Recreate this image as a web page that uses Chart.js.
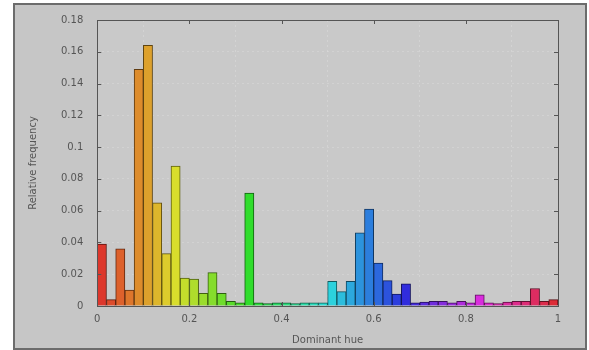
<!DOCTYPE html>
<html>
<head>
<meta charset="utf-8">
<script src="https://cdn.jsdelivr.net/npm/chart.js@4"></script>
<style>
  body { margin: 0; background: #fff; }
  #frame { position: absolute; left: 13px; top: 3px; width: 570px; height: 343px;
           background: #c6c6c6; border: 2px solid #6c6c6c; }
  #wrap { position: absolute; left: 0; top: 0; width: 589px; height: 350px; }
</style>
</head>
<body>
<div id="frame"></div>
<div id="wrap"><canvas id="hueChart" width="589" height="350"></canvas></div>
<script>
// bin centres of the dominant hue histogram (50 bins of 0.02)
var hueBins = [0.01, 0.03, 0.05, 0.07, 0.09, 0.11, 0.13, 0.15, 0.17, 0.19,
               0.21, 0.23, 0.25, 0.27, 0.29, 0.31, 0.33, 0.35, 0.37, 0.39,
               0.41, 0.43, 0.45, 0.47, 0.49, 0.51, 0.53, 0.55, 0.57, 0.59,
               0.61, 0.63, 0.65, 0.67, 0.69, 0.71, 0.73, 0.75, 0.77, 0.79,
               0.81, 0.83, 0.85, 0.87, 0.89, 0.91, 0.93, 0.95, 0.97, 0.99];
var frequency = [0.039, 0.004, 0.036, 0.010, 0.149, 0.164, 0.065, 0.033, 0.088, 0.0175,
                 0.017, 0.008, 0.021, 0.008, 0.003, 0.002, 0.071, 0.002, 0.0015, 0.002,
                 0.002, 0.0015, 0.002, 0.002, 0.002, 0.0155, 0.009, 0.0155, 0.046, 0.061,
                 0.027, 0.016, 0.0075, 0.014, 0.002, 0.0025, 0.003, 0.003, 0.002, 0.003,
                 0.002, 0.007, 0.002, 0.0015, 0.0025, 0.003, 0.003, 0.011, 0.003, 0.004];
var xTicks = [0, 0.2, 0.4, 0.6, 0.8, 1];
var yTicks = [0, 0.02, 0.04, 0.06, 0.08, 0.1, 0.12, 0.14, 0.16, 0.18];

var fills = hueBins.map(function (h) { return 'hsl(' + (h * 360) + ', 72%, 52%)'; });
var edges = hueBins.map(function (h) { return 'hsl(' + (h * 360) + ', 70%, 22%)'; });

// plot box, its background and the inward tick marks
var frameBox = {
    id: 'frameBox',
    beforeDraw: function (chart) {
        var a = chart.chartArea, c = chart.ctx;
        c.save();
        c.fillStyle = '#c9c9c9';
        c.fillRect(a.left, a.top, a.right - a.left, a.bottom - a.top);
        c.restore();
    },
    afterDraw: function (chart) {
        var a = chart.chartArea, c = chart.ctx;
        var ys = chart.scales.y, xs = chart.scales.x2;
        c.save();
        c.strokeStyle = '#555';
        c.lineWidth = 1;
        c.beginPath();
        yTicks.forEach(function (v) {
            var p = Math.round(ys.getPixelForValue(v)) + 0.5;
            c.moveTo(a.left, p); c.lineTo(a.left + 4, p);
            c.moveTo(a.right, p); c.lineTo(a.right - 4, p);
        });
        xTicks.forEach(function (v) {
            var p = Math.round(xs.getPixelForValue(v)) + 0.5;
            c.moveTo(p, a.bottom); c.lineTo(p, a.bottom - 4);
            c.moveTo(p, a.top); c.lineTo(p, a.top + 4);
        });
        c.stroke();
        c.strokeRect(Math.round(a.left) + 0.5, Math.round(a.top) + 0.5,
                     Math.round(a.right - a.left), Math.round(a.bottom - a.top));
        c.restore();
    }
};

var ctx = document.getElementById('hueChart');
var hueChart = new Chart(ctx, {
    type: 'bar',
    data: {
        labels: hueBins,
        datasets: [{
            label: 'Relative frequency',
            data: frequency,
            backgroundColor: fills,
            borderColor: edges,
            borderWidth: 1,
            categoryPercentage: 1,
            barPercentage: 1
        }]
    },
    options: {
        responsive: false,
        animation: false,
        layout: { padding: { left: 0, top: 17, right: 31, bottom: 0 } },
        plugins: { legend: { display: false }, tooltip: { enabled: false } },
        scales: {
            x: { display: false },
            x2: {
                type: 'linear',
                position: 'bottom',
                min: 0,
                max: 1,
                offset: false,
                afterBuildTicks: function (s) { s.ticks = xTicks.map(function (v) { return { value: v }; }); },
                ticks: {
                    padding: 7,
                    color: '#555',
                    font: { family: 'DejaVu Sans', size: 10 },
                    callback: function (v) { return String(Number(v.toFixed(1))); }
                },
                grid: { color: 'rgba(225,225,225,0.45)', drawTicks: false },
                border: { display: false, dash: [2, 3] },
                title: {
                    display: true,
                    text: 'Dominant hue',
                    color: '#555',
                    font: { family: 'DejaVu Sans', size: 10 },
                    padding: { top: 2, bottom: 4 }
                }
            },
            y: {
                min: 0,
                max: 0.18,
                afterBuildTicks: function (s) { s.ticks = yTicks.map(function (v) { return { value: v }; }); },
                ticks: {
                    padding: 14,
                    color: '#555',
                    font: { family: 'DejaVu Sans', size: 10 },
                    callback: function (v) { return String(Number(v.toFixed(2))); }
                },
                grid: { color: 'rgba(225,225,225,0.35)', drawTicks: false },
                border: { display: false, dash: [2, 3] },
                title: {
                    display: true,
                    text: 'Relative frequency',
                    color: '#555',
                    font: { family: 'DejaVu Sans', size: 10 },
                    padding: { top: 27, bottom: 8 }
                }
            }
        }
    },
    plugins: [frameBox]
});
</script>
</body>
</html>
